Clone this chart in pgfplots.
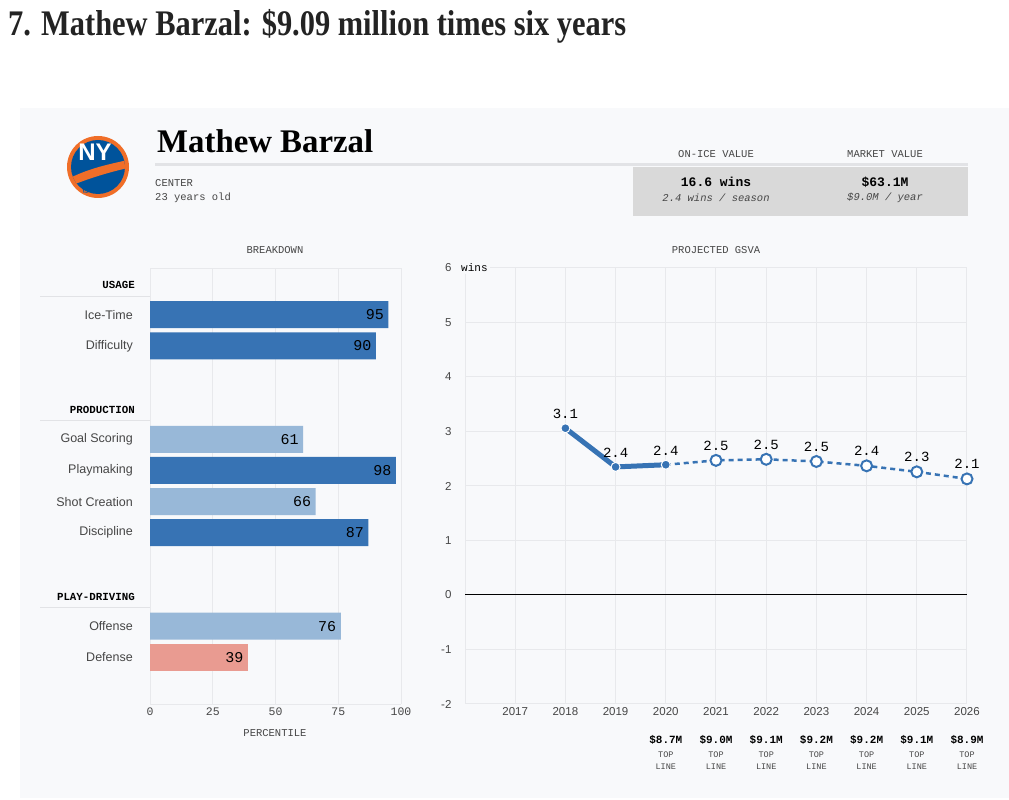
\documentclass[border=0pt]{standalone}
\usepackage{fontspec}
\usepackage{graphicx}
\usepackage{pgfplots}
\pgfplotsset{compat=1.18}
\setmainfont{Liberation Sans}
\newfontfamily\serifb{Liberation Serif}
\newfontfamily\mono{Liberation Mono}
\definecolor{panel}{RGB}{248,249,251}
\definecolor{gridc}{RGB}{232,233,236}
\definecolor{darkblue}{RGB}{55,115,180}
\definecolor{lightblue}{RGB}{152,184,216}
\definecolor{salmon}{RGB}{233,155,145}
\definecolor{boxgrey}{RGB}{217,217,217}
\definecolor{hdrline}{RGB}{226,227,230}
\definecolor{txtgrey}{RGB}{70,70,70}
\definecolor{titlec}{RGB}{35,35,35}
\definecolor{logoorange}{RGB}{240,110,40}
\definecolor{logoblue}{RGB}{0,83,155}
\newcommand\fs[1]{\fontsize{#1}{#1}\selectfont}
\newcommand\hdr[1]{{\color{black}\mono\bfseries\fs{10.8}\hspace*{0pt}#1\hspace*{-2pt}}}
\newcommand\salary[2]{%
  \node[font=\mono\bfseries\fs{11}, text=black] at (axis cs:#1,-2) [yshift=-36pt] {\$#2};
  \node[font=\mono\fs{8.5}, text=txtgrey] at (axis cs:#1,-2) [yshift=-51pt] {TOP};
  \node[font=\mono\fs{8.5}, text=txtgrey] at (axis cs:#1,-2) [yshift=-63pt] {LINE};
}
\pgfplotstableread{
x y
95 1
90 2
98 6
87 8
}\darkdata
\pgfplotstableread{
x y
61 5
66 7
76 11
}\lightdata
\pgfplotstableread{
x y
39 12
}\salmondata
\pgfplotstableread{
x y label
2018 3.06 3.1
2019 2.35 2.4
2020 2.39 2.4
}\actual
\pgfplotstableread{
x y label
2020 2.39 2.4
2021 2.47 2.5
2022 2.49 2.5
2023 2.45 2.5
2024 2.37 2.4
2025 2.26 2.3
2026 2.13 2.1
}\projected
\begin{document}
\begin{tikzpicture}[x=1pt,y=1pt]
\fill[white] (0,0) rectangle (1009,800);
\fill[panel] (20,2) rectangle (1009,692);
% title
\node[anchor=base west, inner sep=0, text=titlec] at (8,800-36)
  {\resizebox{618pt}{\height}{\serifb\bfseries\fs{36}7. Mathew Barzal: \$9.09 million times six years}};
% logo
\fill[logoorange] (98,633) circle (31);
\fill[logoblue] (98,633) circle (27);
\begin{scope}
\clip (98,633) circle (27);
\fill[logoorange] (70,622) .. controls (90,632) and (110,636) .. (128,640) -- (128,632) .. controls (110,628) and (90,622) .. (70,614) -- cycle;
\end{scope}
\node[text=white, font=\bfseries\fs{24}, inner sep=0] at (95,648) {NY};
\node[text=logoblue, font=\bfseries\fs{6}, inner sep=0, rotate=12] at (100,612) {ISLANDERS};
% name block
\node[anchor=base west, inner sep=0] at (157,800-153)
  {\resizebox{216pt}{\height}{\serifb\bfseries\fs{33}Mathew Barzal}};
\draw[line width=3pt, hdrline] (155,800-165) -- (968,800-165);
\node[anchor=west, inner sep=0, font=\mono\fs{10.5}, text=txtgrey] at (155,800-183) {CENTER};
\node[anchor=west, inner sep=0, font=\mono\fs{10.5}, text=txtgrey] at (155,800-198) {23 years old};
\fill[boxgrey] (633,800-216) rectangle (968,800-167);
\node[font=\mono\fs{10.5}, text=txtgrey] at (716,800-154) {ON-ICE VALUE};
\node[font=\mono\fs{10.5}, text=txtgrey] at (885,800-154) {MARKET VALUE};
\node[font=\mono\bfseries\fs{13}] at (716,800-182) {16.6 wins};
\node[font=\mono\itshape\fs{10.5}, text=txtgrey] at (716,800-198) {2.4 wins / season};
\node[font=\mono\bfseries\fs{13}] at (885,800-182) {\$63.1M};
\node[font=\mono\itshape\fs{10.5}, text=txtgrey] at (885,800-198) {\$9.0M / year};
\node[font=\mono\fs{10.5}, text=txtgrey] at (275,800-250) {BREAKDOWN};
\node[font=\mono\fs{10.5}, text=txtgrey] at (716,800-250) {PROJECTED GSVA};
\node[font=\mono\fs{10.5}, text=txtgrey] at (275,800-733) {PERCENTILE};
% header separator lines
\draw[hdrline, line width=1pt] (40,800-297) -- (150,800-297);
\draw[hdrline, line width=1pt] (40,800-421) -- (150,800-421);
\draw[hdrline, line width=1pt] (40,800-608) -- (150,800-608);
% left bar chart
\begin{axis}[
  at={(150pt,96pt)}, anchor=south west, scale only axis,
  width=251pt, height=436pt,
  /pgf/number format/assume math mode=true,
  xmin=0, xmax=100, ymin=-0.5, ymax=13.5, y dir=reverse,
  xtick={0,25,50,75,100},
  xmajorgrids, grid style={gridc, line width=1pt},
  ytick={0.05,1,2,4.05,5,6,7,8,10.05,11,12},
  yticklabels={\hdr{USAGE},Ice-Time,Difficulty,\hdr{PRODUCTION},Goal Scoring,Playmaking,Shot Creation,Discipline,\hdr{PLAY-DRIVING},Offense,Defense},
  yticklabel style={font=\fs{12.5}, text=txtgrey, inner sep=0pt, xshift=-17pt},
  xticklabel style={font=\mono\fs{11.5}, text=txtgrey},
  extra y ticks={-0.5,13.5}, extra y tick labels={},
  extra y tick style={grid=major},
  axis line style={draw=none}, tick style={draw=none},
  clip=false,
]
\addplot[xbar, bar shift=0pt, bar width=27pt, fill=darkblue, draw=none,
  point meta=x, nodes near coords,
  nodes near coords style={anchor=east, font=\mono\fs{15}, text=black, xshift=-1pt}]
  table[x=x,y=y] {\darkdata};
\addplot[xbar, bar shift=0pt, bar width=27pt, fill=lightblue, draw=none,
  point meta=x, nodes near coords,
  nodes near coords style={anchor=east, font=\mono\fs{15}, text=black, xshift=-1pt}]
  table[x=x,y=y] {\lightdata};
\addplot[xbar, bar shift=0pt, bar width=27pt, fill=salmon, draw=none,
  point meta=x, nodes near coords,
  nodes near coords style={anchor=east, font=\mono\fs{15}, text=black, xshift=-1pt}]
  table[x=x,y=y] {\salmondata};
\end{axis}
% right line chart
\begin{axis}[
  at={(465pt,96pt)}, anchor=south west, scale only axis,
  width=502pt, height=436pt,
  /pgf/number format/assume math mode=true,
  xmin=2016, xmax=2026, ymin=-2, ymax=6,
  xtick={2016,...,2026},
  xticklabels={,2017,2018,2019,2020,2021,2022,2023,2024,2025,2026},
  ytick={-2,...,6},
  grid=major, grid style={gridc, line width=1pt},
  xticklabel style={font=\fs{11.5}, text=txtgrey},
  yticklabel style={font=\fs{11.5}, text=txtgrey, xshift=-10pt},
  axis line style={draw=none}, tick style={draw=none},
  clip=false,
]
\addplot[black, line width=1pt] coordinates {(2016,0) (2026,0)};
\addplot[darkblue, line width=2.5pt, dash pattern=on 5pt off 4pt] table[x=x,y=y] {\projected};
\addplot[darkblue, line width=5pt, mark=*, mark size=4.5pt,
  mark options={fill=darkblue, draw=white, line width=1pt, solid},
  point meta=explicit symbolic, nodes near coords,
  nodes near coords style={anchor=south, inner sep=0pt, yshift=9pt, font=\mono\fs{14}, text=black}]
  table[x=x,y=y,meta=label] {\actual};
\addplot[only marks, mark=*, mark size=5.5pt,
  mark options={fill=white, draw=darkblue, line width=2pt, solid},
  skip coords between index={0}{1},
  point meta=explicit symbolic, nodes near coords,
  nodes near coords style={anchor=south, inner sep=0pt, yshift=9pt, font=\mono\fs{14}, text=black}]
  table[x=x,y=y,meta=label] {\projected};
\salary{2020}{8.7M}
\salary{2021}{9.0M}
\salary{2022}{9.1M}
\salary{2023}{9.2M}
\salary{2024}{9.2M}
\salary{2025}{9.1M}
\salary{2026}{8.9M}
\end{axis}
\node[fill=panel, font=\mono\fs{11}, anchor=west, inner sep=2pt] at (459,800-268) {wins};
\end{tikzpicture}
\end{document}
